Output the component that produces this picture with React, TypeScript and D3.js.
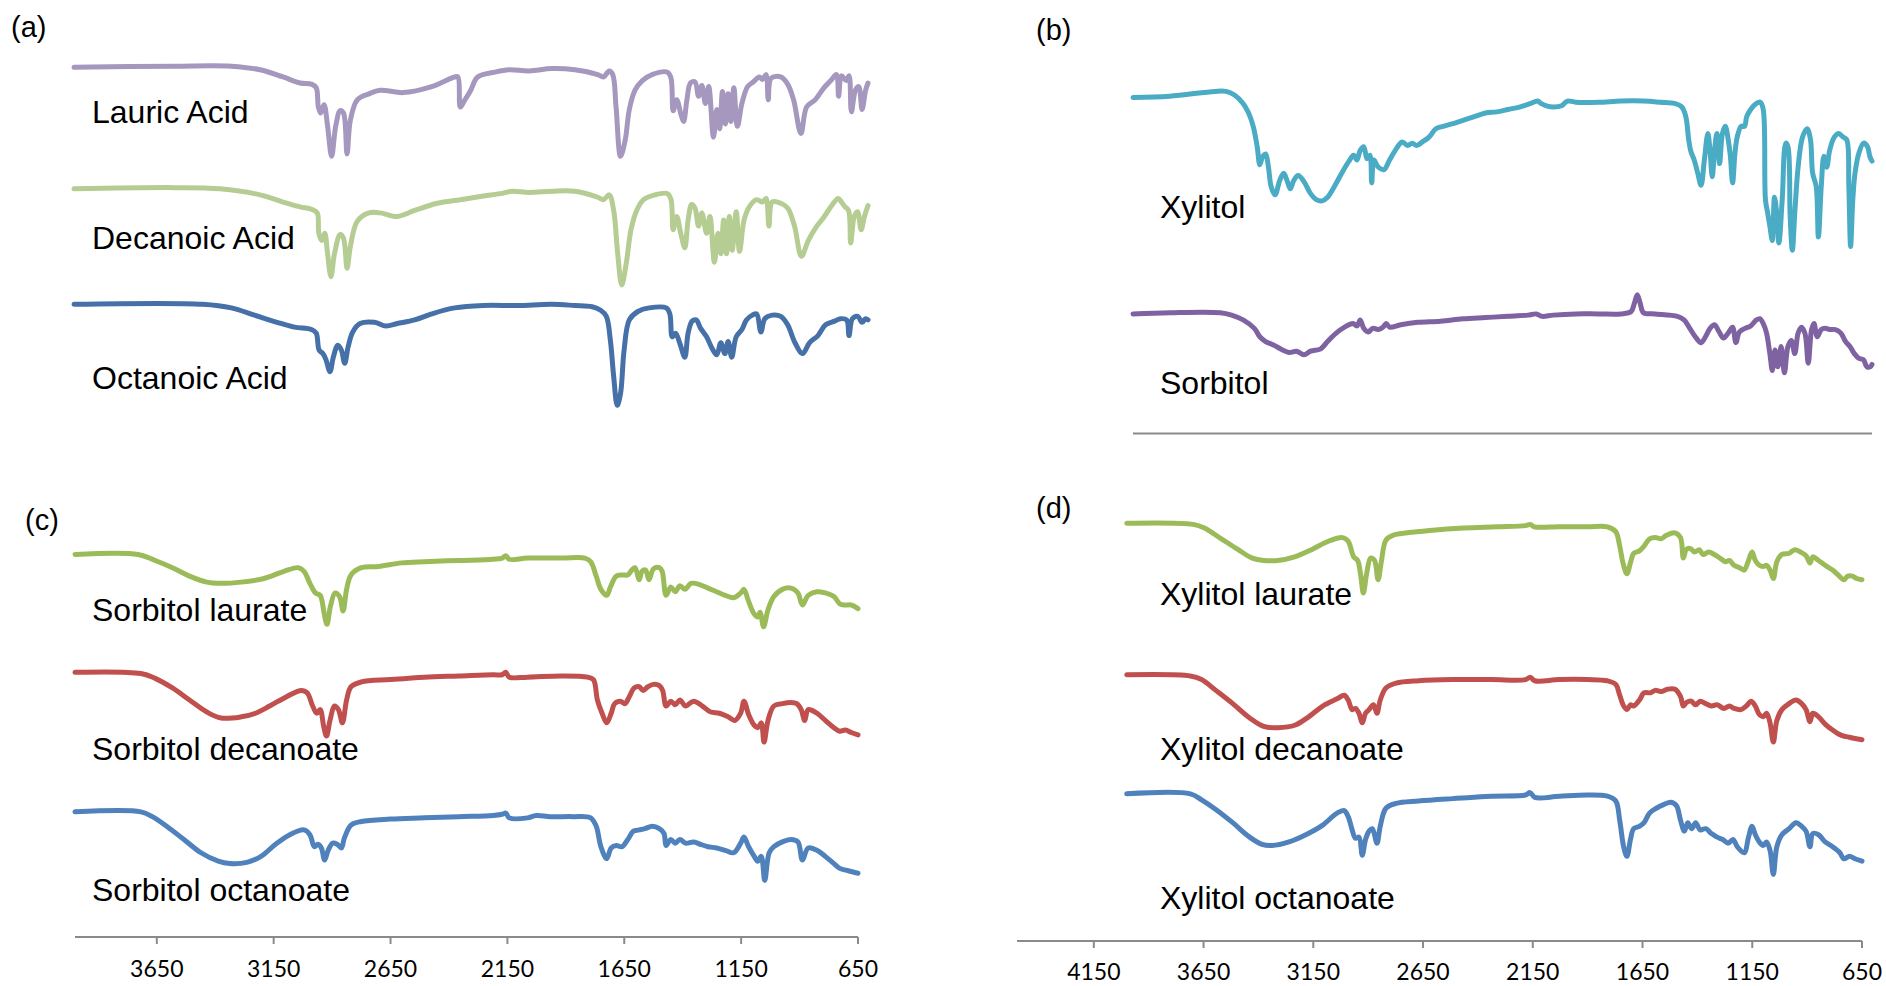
import React from "react"
import * as d3 from "d3"

// FTIR spectra, [wavenumber cm-1, relative transmittance]
const lauricAcid: [number, number][] = [
  [4000, 94], [3577, 95], [3336, 95], [3215, 92], [3118, 86], [3046, 81], [2998, 80], [2978, 77], [2969, 61],
  [2959, 56], [2945, 63], [2930, 45], [2913, 20], [2896, 45], [2877, 58], [2863, 56], [2848, 22], [2834, 50],
  [2805, 67], [2756, 72], [2708, 75], [2611, 73], [2491, 78], [2394, 86], [2380, 86], [2370, 61], [2351, 67],
  [2341, 70], [2326, 75], [2297, 86], [2225, 90], [2165, 92], [2080, 91], [1984, 93], [1887, 92], [1790, 88],
  [1766, 86], [1742, 91], [1727, 88], [1713, 61], [1694, 20], [1674, 34], [1657, 59], [1633, 75], [1602, 83],
  [1561, 88], [1496, 90], [1481, 85], [1472, 58], [1457, 67], [1438, 54], [1428, 49], [1414, 67], [1399, 81],
  [1380, 82], [1365, 70], [1351, 79], [1336, 64], [1322, 78], [1302, 36], [1288, 59], [1276, 43], [1264, 74],
  [1252, 47], [1240, 72], [1228, 49], [1216, 77], [1201, 45], [1182, 64], [1158, 78], [1133, 82], [1109, 86],
  [1095, 84], [1080, 88], [1071, 67], [1059, 85], [1018, 86], [989, 80], [964, 67], [933, 39], [909, 61],
  [873, 67], [836, 77], [807, 83], [783, 88], [774, 70], [762, 87], [742, 83], [730, 87], [720, 57], [703, 75],
  [689, 78], [675, 59], [660, 75], [650, 81],
]
const decanoicAcid: [number, number][] = [
  [4000, 93], [3577, 94], [3384, 93], [3215, 88], [3118, 82], [3046, 78], [2998, 76], [2974, 73], [2967, 56],
  [2954, 50], [2942, 56], [2930, 39], [2916, 20], [2901, 39], [2877, 55], [2863, 52], [2848, 27], [2834, 45],
  [2805, 66], [2756, 73], [2708, 73], [2636, 70], [2563, 75], [2467, 81], [2370, 84], [2273, 87], [2201, 89],
  [2153, 91], [2080, 90], [1984, 91], [1887, 91], [1790, 86], [1766, 84], [1742, 88], [1723, 75], [1706, 39],
  [1689, 13], [1670, 31], [1650, 59], [1626, 75], [1597, 84], [1549, 88], [1496, 89], [1481, 84], [1472, 59],
  [1457, 70], [1440, 56], [1423, 44], [1409, 67], [1394, 80], [1380, 77], [1365, 62], [1351, 73], [1331, 56],
  [1317, 70], [1298, 32], [1283, 56], [1271, 39], [1259, 67], [1247, 39], [1235, 70], [1223, 42], [1206, 74],
  [1192, 41], [1173, 67], [1151, 78], [1120, 84], [1095, 82], [1080, 85], [1068, 62], [1054, 82], [1018, 81],
  [989, 77], [960, 62], [931, 37], [902, 50], [873, 60], [834, 70], [800, 80], [776, 85], [762, 82], [747, 78],
  [732, 75], [723, 48], [708, 70], [694, 74], [679, 59], [665, 70], [650, 79],
]
const octanoicAcid: [number, number][] = [
  [4000, 97], [3457, 97], [3336, 94], [3239, 88], [3143, 82], [3070, 78], [2998, 76], [2978, 73], [2966, 59],
  [2950, 56], [2937, 51], [2920, 41], [2906, 53], [2887, 63], [2872, 59], [2858, 48], [2843, 62], [2824, 74],
  [2793, 81], [2732, 82], [2684, 79], [2636, 81], [2563, 84], [2491, 89], [2394, 94], [2273, 96], [2128, 96],
  [1984, 97], [1887, 96], [1814, 95], [1778, 92], [1754, 87], [1737, 67], [1723, 37], [1708, 13], [1694, 23],
  [1679, 59], [1657, 84], [1621, 91], [1573, 94], [1501, 94], [1486, 89], [1476, 70], [1462, 73], [1443, 64],
  [1423, 53], [1409, 73], [1392, 83], [1375, 84], [1356, 77], [1331, 70], [1307, 60], [1288, 55], [1271, 65],
  [1254, 56], [1240, 66], [1225, 53], [1206, 70], [1182, 76], [1163, 84], [1138, 88], [1120, 89], [1102, 74],
  [1085, 85], [1054, 88], [1018, 87], [989, 80], [958, 65], [926, 56], [897, 65], [861, 71], [829, 80],
  [791, 83], [766, 85], [740, 84], [730, 71], [716, 85], [693, 87], [675, 82], [660, 85], [650, 84],
]
const xylitol: [number, number][] = [
  [4000, 139], [3834, 140], [3629, 144], [3578, 144], [3540, 141], [3501, 134], [3476, 126], [3455, 115],
  [3437, 98], [3425, 83], [3412, 90], [3399, 92], [3386, 81], [3374, 65], [3356, 58], [3335, 70], [3317, 76],
  [3302, 70], [3287, 63], [3271, 70], [3251, 74], [3225, 69], [3195, 59], [3169, 54], [3143, 53], [3118, 56],
  [3087, 65], [3054, 76], [3021, 86], [3000, 91], [2985, 87], [2970, 95], [2954, 98], [2939, 88], [2926, 91],
  [2918, 68], [2908, 87], [2888, 81], [2862, 79], [2837, 87], [2811, 95], [2780, 102], [2755, 99], [2734, 101],
  [2714, 99], [2688, 102], [2658, 106], [2627, 113], [2594, 115], [2555, 117], [2504, 120], [2453, 123],
  [2402, 126], [2351, 127], [2300, 129], [2248, 131], [2197, 134], [2166, 136], [2151, 134], [2126, 132],
  [2095, 131], [2057, 132], [2031, 136], [1993, 135], [1890, 135], [1788, 136], [1686, 136], [1609, 135],
  [1545, 134], [1512, 131], [1494, 123], [1481, 104], [1471, 94], [1456, 87], [1440, 76], [1425, 66],
  [1410, 87], [1394, 109], [1384, 94], [1374, 73], [1364, 95], [1353, 109], [1341, 84], [1328, 109],
  [1315, 115], [1302, 104], [1292, 90], [1282, 68], [1271, 93], [1261, 106], [1243, 115], [1228, 115],
  [1218, 123], [1200, 129], [1174, 134], [1156, 135], [1143, 129], [1133, 54], [1123, 43], [1113, 32],
  [1102, 20], [1092, 56], [1082, 43], [1072, 18], [1057, 54], [1041, 101], [1031, 98], [1021, 40], [1011, 12],
  [1000, 43], [985, 81], [965, 106], [944, 113], [929, 104], [919, 76], [903, 65], [893, 23], [880, 65],
  [868, 90], [855, 81], [842, 95], [821, 106], [801, 109], [781, 106], [765, 104], [755, 65], [747, 15],
  [737, 54], [727, 76], [709, 93], [688, 101], [670, 98], [660, 90], [650, 86],
]
const sorbitol: [number, number][] = [
  [4000, 59], [3834, 60], [3604, 60], [3553, 58], [3501, 54], [3450, 47], [3425, 40], [3399, 36], [3361, 33],
  [3322, 29], [3292, 27], [3258, 28], [3225, 25], [3195, 28], [3149, 30], [3118, 36], [3079, 43], [3041, 48],
  [3003, 51], [2985, 49], [2970, 54], [2954, 47], [2934, 44], [2913, 47], [2888, 46], [2867, 48], [2852, 51],
  [2837, 48], [2786, 50], [2709, 52], [2606, 53], [2504, 55], [2402, 56], [2300, 57], [2210, 58], [2172, 59],
  [2146, 57], [2095, 58], [1993, 59], [1890, 59], [1788, 59], [1742, 61], [1727, 68], [1714, 75], [1701, 68],
  [1686, 60], [1635, 59], [1532, 57], [1502, 54], [1476, 47], [1451, 40], [1425, 35], [1405, 40], [1384, 47],
  [1364, 50], [1343, 44], [1323, 39], [1302, 43], [1282, 48], [1267, 35], [1251, 44], [1225, 47], [1200, 49],
  [1174, 54], [1159, 55], [1143, 51], [1128, 43], [1113, 26], [1102, 12], [1090, 29], [1077, 15], [1062, 32],
  [1047, 10], [1031, 32], [1016, 37], [1000, 26], [985, 43], [970, 48], [954, 43], [939, 18], [924, 46],
  [913, 51], [898, 40], [880, 46], [862, 47], [842, 46], [816, 46], [791, 43], [770, 36], [750, 32], [730, 26],
  [709, 22], [689, 21], [673, 15], [658, 15], [650, 17],
]
const sorbitolLaurate: [number, number][] = [
  [4000, 69], [3730, 69], [3657, 64], [3583, 58], [3510, 51], [3436, 46], [3375, 45], [3289, 46], [3191, 49],
  [3106, 55], [3044, 58], [3020, 55], [2995, 45], [2971, 37], [2951, 35], [2934, 20], [2922, 11], [2907, 26],
  [2887, 37], [2868, 34], [2853, 22], [2838, 40], [2819, 52], [2775, 58], [2701, 59], [2603, 62], [2505, 63],
  [2358, 64], [2211, 65], [2172, 66], [2157, 68], [2142, 65], [2064, 66], [1917, 66], [1819, 66], [1794, 63],
  [1770, 51], [1750, 40], [1725, 35], [1709, 42], [1684, 51], [1660, 52], [1635, 52], [1618, 56], [1604, 58],
  [1586, 48], [1574, 55], [1559, 56], [1544, 48], [1525, 57], [1500, 58], [1488, 55], [1471, 35], [1451, 42],
  [1432, 38], [1412, 43], [1390, 40], [1365, 45], [1328, 44], [1292, 41], [1255, 38], [1218, 35], [1182, 33],
  [1152, 37], [1138, 40], [1120, 31], [1096, 20], [1079, 17], [1069, 21], [1054, 9], [1035, 23], [1010, 34],
  [974, 40], [937, 41], [907, 37], [888, 27], [863, 35], [826, 38], [790, 37], [753, 34], [728, 28], [704, 27],
  [679, 27], [650, 24],
]
const sorbitolDecanoate: [number, number][] = [
  [4000, 71], [3718, 70], [3657, 66], [3583, 58], [3510, 48], [3436, 38], [3375, 33], [3289, 34], [3228, 37],
  [3167, 43], [3093, 51], [3032, 56], [3007, 54], [2983, 43], [2966, 37], [2951, 40], [2936, 26], [2924, 18],
  [2909, 31], [2890, 43], [2873, 40], [2856, 29], [2838, 48], [2819, 59], [2775, 63], [2652, 65], [2505, 67],
  [2358, 68], [2211, 69], [2172, 69], [2157, 71], [2142, 67], [2064, 67], [1917, 68], [1807, 67], [1782, 65],
  [1765, 48], [1745, 37], [1725, 29], [1706, 37], [1691, 45], [1667, 47], [1647, 45], [1628, 51], [1608, 58],
  [1586, 59], [1569, 56], [1549, 59], [1525, 61], [1500, 60], [1486, 56], [1471, 43], [1451, 47], [1432, 44],
  [1412, 48], [1388, 43], [1353, 47], [1316, 43], [1280, 38], [1243, 37], [1206, 34], [1177, 31], [1152, 37],
  [1138, 47], [1118, 36], [1094, 27], [1079, 25], [1064, 29], [1052, 13], [1035, 31], [1010, 43], [974, 45],
  [937, 46], [912, 45], [893, 40], [878, 31], [863, 40], [826, 37], [790, 31], [753, 25], [728, 22], [704, 23],
  [679, 21], [650, 19],
]
const sorbitolOctanoate: [number, number][] = [
  [4000, 65], [3718, 65], [3669, 61], [3608, 53], [3534, 42], [3461, 31], [3387, 24], [3338, 22], [3265, 23],
  [3204, 28], [3142, 38], [3081, 46], [3020, 50], [2995, 46], [2976, 36], [2961, 38], [2946, 35], [2932, 25],
  [2917, 33], [2897, 39], [2878, 38], [2860, 35], [2848, 43], [2819, 54], [2775, 57], [2652, 59], [2505, 60],
  [2358, 61], [2211, 62], [2172, 63], [2157, 64], [2142, 60], [2064, 60], [2027, 62], [1966, 61], [1868, 61],
  [1794, 60], [1770, 53], [1750, 36], [1725, 26], [1706, 35], [1684, 37], [1660, 36], [1635, 42], [1611, 49],
  [1586, 50], [1562, 51], [1530, 53], [1500, 51], [1480, 47], [1471, 37], [1451, 42], [1432, 39], [1412, 42],
  [1388, 39], [1353, 40], [1324, 38], [1292, 36], [1255, 35], [1218, 33], [1182, 31], [1152, 39], [1138, 44],
  [1118, 36], [1094, 28], [1079, 24], [1064, 28], [1049, 8], [1030, 31], [1010, 36], [974, 40], [937, 42],
  [907, 40], [888, 25], [863, 35], [826, 33], [790, 28], [753, 22], [728, 18], [692, 16], [650, 14],
]
const xylitolLaurate: [number, number][] = [
  [4000, 65], [3697, 64], [3646, 61], [3569, 52], [3492, 43], [3428, 36], [3376, 34], [3312, 34], [3235, 37],
  [3158, 43], [3081, 50], [3017, 53], [2991, 50], [2966, 37], [2948, 34], [2935, 23], [2922, 7], [2907, 23],
  [2889, 36], [2871, 34], [2855, 18], [2840, 33], [2819, 51], [2786, 55], [2722, 57], [2619, 59], [2465, 61],
  [2311, 62], [2183, 63], [2162, 64], [2144, 62], [2029, 62], [1900, 62], [1810, 62], [1772, 58], [1754, 46],
  [1739, 32], [1721, 23], [1705, 32], [1690, 40], [1664, 42], [1643, 46], [1618, 52], [1587, 53], [1566, 52],
  [1541, 55], [1502, 57], [1477, 53], [1464, 36], [1451, 43], [1433, 44], [1413, 41], [1392, 43], [1374, 39],
  [1349, 41], [1323, 39], [1297, 36], [1272, 33], [1254, 34], [1233, 30], [1208, 28], [1187, 26], [1169, 33],
  [1151, 41], [1136, 34], [1118, 30], [1100, 29], [1085, 30], [1069, 26], [1054, 19], [1038, 33], [1015, 39],
  [982, 40], [956, 43], [931, 41], [905, 38], [887, 32], [874, 37], [848, 34], [818, 30], [784, 26], [759, 22],
  [733, 18], [715, 21], [694, 21], [674, 19], [650, 18],
]
const xylitolDecanoate: [number, number][] = [
  [4000, 69], [3710, 68], [3659, 65], [3594, 56], [3517, 45], [3440, 33], [3376, 26], [3312, 25], [3235, 27],
  [3171, 34], [3107, 43], [3042, 49], [3009, 52], [2991, 48], [2973, 40], [2958, 41], [2942, 37], [2927, 29],
  [2912, 37], [2896, 40], [2876, 44], [2860, 37], [2845, 48], [2819, 58], [2773, 62], [2670, 64], [2516, 65],
  [2337, 65], [2183, 65], [2162, 67], [2141, 64], [2029, 65], [1900, 65], [1810, 64], [1772, 61], [1754, 52],
  [1736, 43], [1721, 40], [1705, 44], [1690, 43], [1664, 48], [1643, 54], [1613, 54], [1592, 56], [1566, 55],
  [1536, 57], [1502, 57], [1477, 51], [1464, 43], [1449, 46], [1428, 47], [1408, 44], [1387, 47], [1362, 45],
  [1336, 43], [1310, 44], [1279, 41], [1254, 43], [1233, 41], [1202, 40], [1177, 43], [1156, 47], [1136, 43],
  [1118, 36], [1100, 34], [1085, 37], [1069, 29], [1054, 13], [1038, 31], [1015, 40], [982, 45], [951, 48],
  [925, 45], [905, 40], [887, 30], [874, 37], [848, 34], [818, 28], [784, 23], [759, 20], [733, 18], [707, 17],
  [682, 16], [650, 15],
]
const xylitolOctanoate: [number, number][] = [
  [4000, 70], [3710, 70], [3659, 65], [3594, 57], [3517, 46], [3440, 34], [3384, 28], [3338, 27], [3261, 30],
  [3184, 36], [3107, 44], [3042, 54], [3009, 56], [2991, 51], [2973, 40], [2958, 33], [2942, 34], [2927, 19],
  [2912, 32], [2896, 39], [2881, 41], [2860, 29], [2845, 43], [2819, 58], [2773, 62], [2670, 64], [2516, 66],
  [2337, 68], [2183, 69], [2162, 71], [2141, 67], [2029, 68], [1900, 69], [1810, 68], [1772, 64], [1754, 48],
  [1736, 26], [1721, 18], [1705, 32], [1690, 41], [1664, 43], [1643, 46], [1618, 54], [1587, 58], [1554, 61],
  [1520, 63], [1495, 60], [1477, 48], [1459, 39], [1444, 46], [1426, 41], [1408, 46], [1387, 40], [1362, 41],
  [1336, 37], [1310, 34], [1285, 32], [1259, 29], [1238, 32], [1218, 26], [1187, 21], [1167, 34], [1151, 43],
  [1136, 36], [1118, 30], [1100, 27], [1085, 30], [1069, 23], [1054, 3], [1038, 26], [1015, 36], [982, 41],
  [951, 46], [925, 43], [905, 39], [887, 26], [874, 37], [848, 36], [818, 30], [784, 26], [751, 21], [733, 16],
  [707, 18], [682, 16], [650, 14],
]

const ticksC = [3650, 3150, 2650, 2150, 1650, 1150, 650]
const ticksD = [4150, 3650, 3150, 2650, 2150, 1650, 1150, 650]

type Series = { name: string; data: [number, number][]; offset: number; color: string; labelY: number }
type Panel = {
  tag: string; tagX: number; tagY: number; x: d3.ScaleLinear<number, number>; labelX: number
  series: Series[]; axis?: { y: number; ticks: number[]; labelY: number }; baseline?: number
}

const W = 1886
const H = 986
const y = d3.scaleLinear().domain([0, 800]).range([962.2, 0])

const panels: Panel[] = [
  {
    tag: "(a)", tagX: 11, tagY: 37, labelX: 92,
    x: d3.scaleLinear().domain([4000, 650]).range([74, 868]),
    series: [
      { name: "Lauric Acid", data: lauricAcid, offset: 650, color: "#a597be", labelY: 123 },
      { name: "Decanoic Acid", data: decanoicAcid, offset: 550, color: "#b5cc92", labelY: 249 },
      { name: "Octanoic Acid", data: octanoicAcid, offset: 450, color: "#4670a8", labelY: 389 },
    ],
  },
  {
    tag: "(b)", tagX: 1036, tagY: 40, labelX: 1160,
    x: d3.scaleLinear().domain([4000, 650]).range([1133, 1872]),
    baseline: 433.5,
    series: [
      { name: "Xylitol", data: xylitol, offset: 580, color: "#4aabc5", labelY: 218 },
      { name: "Sorbitol", data: sorbitol, offset: 480, color: "#7f62a1", labelY: 394 },
    ],
  },
  {
    tag: "(c)", tagX: 25, tagY: 530, labelX: 92,
    x: d3.scaleLinear().domain([4000, 650]).range([75, 858]),
    axis: { y: 937, ticks: ticksC, labelY: 977 },
    series: [
      { name: "Sorbitol laurate", data: sorbitolLaurate, offset: 270, color: "#9bbb59", labelY: 621 },
      { name: "Sorbitol decanoate", data: sorbitolDecanoate, offset: 170, color: "#c0504d", labelY: 760 },
      { name: "Sorbitol octanoate", data: sorbitolOctanoate, offset: 60, color: "#4f81bd", labelY: 901 },
    ],
  },
  {
    tag: "(d)", tagX: 1036, tagY: 518, labelX: 1160,
    x: d3.scaleLinear().domain([4500, 650]).range([1017, 1862]),
    axis: { y: 941, ticks: ticksD, labelY: 980 },
    series: [
      { name: "Xylitol laurate", data: xylitolLaurate, offset: 300, color: "#9bbb59", labelY: 605 },
      { name: "Xylitol decanoate", data: xylitolDecanoate, offset: 170, color: "#c0504d", labelY: 760 },
      { name: "Xylitol octanoate", data: xylitolOctanoate, offset: 70, color: "#4f81bd", labelY: 909 },
    ],
  },
]

const labelFont = "'Liberation Sans', Arial, sans-serif"
const tickFont = "Lato, 'Open Sans', sans-serif"

export default function App() {
  return (
    <svg width={W} height={H} style={{ position: "absolute", left: 0, top: 0, background: "#fff" }}>
      {panels.map((p) => {
        const line = d3
          .line<[number, number]>()
          .x((d) => p.x(d[0]))
          .curve(d3.curveCatmullRom.alpha(0.5))
        const [x0, x1] = p.x.range()
        return (
          <g key={p.tag}>
            <text x={p.tagX} y={p.tagY} fontFamily={labelFont} fontSize={29} fill="#000">
              {p.tag}
            </text>
            {p.baseline !== undefined && (
              <line x1={x0} x2={x1} y1={p.baseline} y2={p.baseline} stroke="#8a8a8a" strokeWidth={2} />
            )}
            {p.axis && (
              <g>
                <line x1={x0} x2={x1} y1={p.axis.y} y2={p.axis.y} stroke="#8a8a8a" strokeWidth={2} />
                {p.axis.ticks.map((t) => (
                  <g key={t}>
                    <line x1={p.x(t)} x2={p.x(t)} y1={p.axis!.y} y2={p.axis!.y + 7} stroke="#8a8a8a" strokeWidth={2} />
                    <text
                      x={p.x(t)}
                      y={p.axis!.labelY}
                      textAnchor="middle"
                      fontFamily={tickFont}
                      fontSize={23}
                      fill="#000"
                    >
                      {t}
                    </text>
                  </g>
                ))}
              </g>
            )}
            {p.series.map((s) => (
              <g key={s.name}>
                <path
                  d={line.y((d) => y(d[1] + s.offset))(s.data) || ""}
                  fill="none"
                  stroke={s.color}
                  strokeWidth={5}
                  strokeLinejoin="round"
                  strokeLinecap="round"
                />
                <text x={p.labelX} y={s.labelY} fontFamily={labelFont} fontSize={32} fill="#000">
                  {s.name}
                </text>
              </g>
            ))}
          </g>
        )
      })}
    </svg>
  )
}
